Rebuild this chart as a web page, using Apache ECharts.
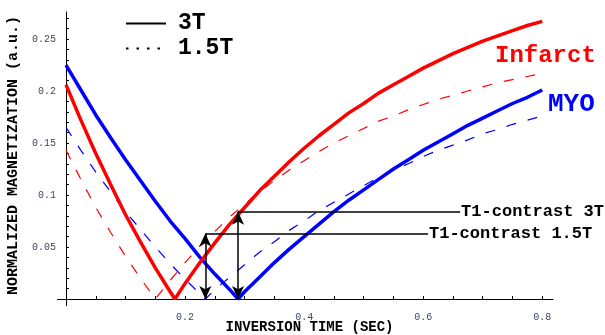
<!DOCTYPE html>
<html><head><meta charset="utf-8">
<script src="https://cdn.jsdelivr.net/npm/echarts@6/dist/echarts.min.js"></script>
<style>html,body{margin:0;padding:0;background:#fff}#c{width:605px;height:335px}</style>
</head><body><div id="c"></div>
<script>
// Inversion time samples (s)
const ti = [0,0.025,0.05,0.075,0.1,0.125,0.15,0.175,0.2,0.225,0.25,0.275,0.3,0.325,0.35,0.375,0.4,0.425,0.45,0.475,0.5,0.525,0.55,0.575,0.6,0.625,0.65,0.675,0.7,0.725,0.75,0.775,0.8];
// Normalized magnetization (a.u.)
const infarct3T  = [0.206,0.172,0.140,0.110,0.081,0.055,0.030,0.007,0.015,0.035,0.054,0.072,0.088,0.104,0.118,0.132,0.145,0.157,0.168,0.179,0.188,0.198,0.206,0.214,0.222,0.229,0.236,0.242,0.248,0.253,0.258,0.263,0.267];
const myo3T      = [0.225,0.201,0.177,0.155,0.134,0.114,0.094,0.075,0.058,0.040,0.024,0.009,0.007,0.021,0.035,0.048,0.060,0.072,0.084,0.095,0.105,0.115,0.125,0.134,0.143,0.151,0.159,0.167,0.174,0.181,0.188,0.194,0.201];
const infarct15T = [0.143,0.115,0.088,0.064,0.041,0.020,0.000,0.018,0.035,0.051,0.065,0.079,0.091,0.103,0.114,0.124,0.133,0.142,0.150,0.157,0.164,0.171,0.176,0.182,0.187,0.192,0.196,0.200,0.204,0.208,0.211,0.214,0.217];
const myo15T     = [0.165,0.143,0.122,0.103,0.084,0.067,0.050,0.034,0.019,0.005,0.009,0.021,0.033,0.045,0.055,0.066,0.075,0.085,0.093,0.101,0.109,0.117,0.124,0.130,0.137,0.143,0.148,0.153,0.159,0.163,0.168,0.172,0.176];
// Null (zero-crossing) times
const nullInfarct3T = 0.183, nullMyo3T = 0.289, nullMyo15T = 0.234;
// T1-contrast annotations: [TI, magnetization at top, end of leader line]
const contrast3T  = [0.289, 0.084, 0.662];
const contrast15T = [0.234, 0.063, 0.608];
// Ticks
const xTicks = [0.05,0.1,0.15,0.2,0.25,0.3,0.35,0.4,0.45,0.5,0.55,0.6,0.65,0.7,0.75,0.8];
const xLabels = [0.2,0.4,0.6,0.8];
const yTicks = [0.01,0.02,0.03,0.04,0.05,0.06,0.07,0.08,0.09,0.1,0.11,0.12,0.13,0.14,0.15,0.16,0.17,0.18,0.19,0.2,0.21,0.22,0.23,0.24,0.25,0.26,0.27];
const yLabels = [0.05,0.1,0.15,0.2,0.25];

function pairs(vals, nullT){
  const out = ti.map((t,i)=>[t, vals[i]]);
  if (nullT !== undefined) { out.push([nullT, 0]); out.sort((a,b)=>a[0]-b[0]); }
  return out;
}
const mono = '"Liberation Mono","Courier New",monospace';
const RED = '#ff0000', BLUE = '#0000ff';

const chart = echarts.init(document.getElementById('c'), null, {renderer:'canvas'});
chart.setOption({
  animation:false,
  backgroundColor:'#fff',
  grid:{left:66, right:52, top:12, bottom:36, outerBoundsMode:'none', containLabel:false},
  legend:{
    data:['3T','1.5T'], orient:'vertical', left:120, top:7, itemWidth:40, itemHeight:14, itemGap:2,
    itemStyle:{opacity:0},
    textStyle:{fontFamily:mono, fontWeight:'bold', fontSize:23, color:'#000', padding:[0,0,0,7]}
  },
  xAxis:{
    type:'value', min:0, max:0.818,
    name:'INVERSION TIME (SEC)', nameLocation:'middle', nameGap:21, nameMoveOverlap:false,
    nameTextStyle:{fontFamily:mono, fontWeight:'bold', fontSize:14, color:'#000'},
    axisLine:{lineStyle:{color:'#000', width:1}},
    axisTick:{show:true, inside:true, length:3, customValues:xTicks, lineStyle:{color:'#000'}},
    axisLabel:{customValues:xLabels, margin:13, fontFamily:mono, fontSize:10, color:'#3d4660'},
    splitLine:{show:false}
  },
  yAxis:{
    type:'value', min:0, max:0.276,
    name:'NORMALIZED MAGNETIZATION (a.u.)', nameLocation:'middle', nameGap:45, nameMoveOverlap:false,
    nameTextStyle:{fontFamily:mono, fontWeight:'bold', fontSize:15, color:'#000'},
    axisLine:{show:true, lineStyle:{color:'#000', width:1}},
    axisTick:{show:true, inside:true, length:3, customValues:yTicks, lineStyle:{color:'#000'}},
    axisLabel:{customValues:yLabels, margin:10, fontFamily:mono, fontSize:10, color:'#3d4660'},
    splitLine:{show:false}
  },
  series:[
    {name:'3T', type:'line', data:[], symbol:'none', lineStyle:{color:'#000', width:2, type:'solid'}, itemStyle:{color:'#000'}},
    {name:'1.5T', type:'line', data:[], symbol:'none', lineStyle:{color:'#000', width:1.5, type:[2.5,8]}, itemStyle:{color:'#000'}},
    {name:'Infarct 1.5T', type:'line', data:pairs(infarct15T), symbol:'none', lineStyle:{color:RED, width:1.2, type:[10,12]}},
    {name:'MYO 1.5T', type:'line', data:pairs(myo15T, nullMyo15T), symbol:'none', lineStyle:{color:BLUE, width:1.2, type:[10,12]}},
    {name:'MYO 3T', type:'line', data:pairs(myo3T, nullMyo3T), symbol:'none', lineStyle:{color:BLUE, width:3.5}},
    {name:'Infarct 3T', type:'line', data:pairs(infarct3T, nullInfarct3T), symbol:'none', lineStyle:{color:RED, width:3.5},
     markLine:{
       silent:true, symbol:['arrow','arrow'], symbolSize:[9,13], precision:4,
       lineStyle:{color:'#000', width:1.5, type:'solid'},
       label:{show:false},
       data:[
         [{coord:[contrast3T[0],0]},{coord:[contrast3T[0],contrast3T[1]]}],
         [{coord:[contrast15T[0],0]},{coord:[contrast15T[0],contrast15T[1]]}],
         [{coord:[contrast3T[0],contrast3T[1]], symbol:'none'},{coord:[contrast3T[2],contrast3T[1]], symbol:'none',
           label:{show:true, position:'end', distance:1, formatter:'T1-contrast 3T', fontFamily:mono, fontWeight:'bold', fontSize:17, color:'#000'}}],
         [{coord:[contrast15T[0],contrast15T[1]], symbol:'none'},{coord:[contrast15T[2],contrast15T[1]], symbol:'none',
           label:{show:true, position:'end', distance:1, formatter:'T1-contrast 1.5T', fontFamily:mono, fontWeight:'bold', fontSize:17, color:'#000'}}]
       ]
     }}
  ],
  graphic:[
    {type:'text', left:495, top:44, style:{text:'Infarct', fill:RED, font:'bold 24px '+mono}},
    {type:'text', left:548, top:91, style:{text:'MYO', fill:BLUE, font:'bold 26px '+mono}},
    {type:'line', shape:{x1:57, y1:299.5, x2:66, y2:299.5}, style:{stroke:'#000', lineWidth:1}},
    {type:'line', shape:{x1:66.5, y1:299, x2:66.5, y2:306}, style:{stroke:'#000', lineWidth:1}}
  ]
});
</script></body></html>
